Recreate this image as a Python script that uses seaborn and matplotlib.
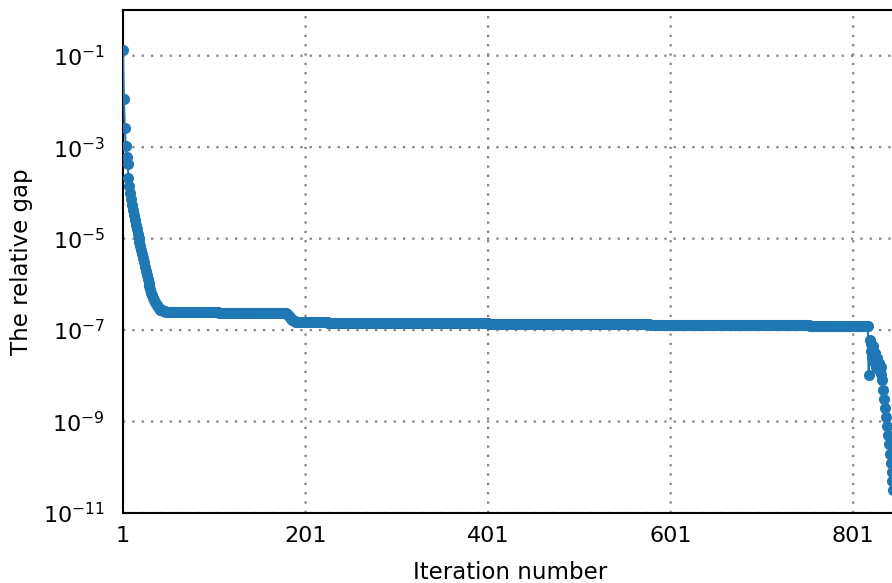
import numpy as np
import pandas as pd
import matplotlib
matplotlib.use("Agg")
import matplotlib.pyplot as plt
import seaborn as sns
from matplotlib.ticker import NullLocator

# log10 of the relative gap, one value per iteration
gap_descent = [  # iterations 1-50
    -0.87, -1.94, -2.59, -2.98, -3.22, -3.36, -3.67, -3.84, -4.00, -4.14,
    -4.26, -4.38, -4.49, -4.60, -4.70, -4.80, -4.89, -4.98, -5.07, -5.16,
    -5.25, -5.34, -5.43, -5.52, -5.61, -5.70, -5.79, -5.88, -5.96, -6.04,
    -6.11, -6.18, -6.24, -6.30, -6.35, -6.39, -6.43, -6.46, -6.49, -6.51,
    -6.53, -6.55, -6.56, -6.57, -6.58, -6.59, -6.59, -6.60, -6.60, -6.60,
]
gap_first_plateau = [  # iterations 51-180
    -6.605, -6.605, -6.605, -6.605, -6.605, -6.606, -6.606, -6.606, -6.606, -6.606,
    -6.607, -6.607, -6.607, -6.607, -6.607, -6.608, -6.608, -6.608, -6.608, -6.608,
    -6.609, -6.609, -6.609, -6.609, -6.609, -6.610, -6.610, -6.610, -6.610, -6.610,
    -6.611, -6.611, -6.611, -6.611, -6.611, -6.612, -6.612, -6.612, -6.612, -6.612,
    -6.613, -6.613, -6.613, -6.613, -6.613, -6.614, -6.614, -6.614, -6.614, -6.614,
    -6.615, -6.615, -6.615, -6.615, -6.615, -6.616, -6.616, -6.616, -6.616, -6.616,
    -6.617, -6.617, -6.617, -6.617, -6.617, -6.618, -6.618, -6.618, -6.618, -6.618,
    -6.619, -6.619, -6.619, -6.619, -6.619, -6.620, -6.620, -6.620, -6.620, -6.620,
    -6.621, -6.621, -6.621, -6.621, -6.621, -6.622, -6.622, -6.622, -6.622, -6.622,
    -6.623, -6.623, -6.623, -6.623, -6.623, -6.624, -6.624, -6.624, -6.624, -6.624,
    -6.625, -6.625, -6.625, -6.625, -6.625, -6.626, -6.626, -6.626, -6.626, -6.626,
    -6.627, -6.627, -6.627, -6.627, -6.627, -6.628, -6.628, -6.628, -6.628, -6.628,
    -6.629, -6.629, -6.629, -6.629, -6.629, -6.630, -6.630, -6.630, -6.630, -6.630,
]
gap_step = [  # iterations 181-193
    -6.64, -6.66, -6.69, -6.72, -6.75, -6.77, -6.79, -6.80, -6.81, -6.82,
    -6.825, -6.828, -6.829,
]
gap_second_plateau = [  # iterations 194-817
    -6.830, -6.830, -6.830, -6.830, -6.830, -6.830, -6.830, -6.830,
    -6.831, -6.831, -6.831, -6.831, -6.831, -6.831, -6.831, -6.831,
    -6.832, -6.832, -6.832, -6.832, -6.832, -6.832, -6.832, -6.832,
    -6.833, -6.833, -6.833, -6.833, -6.833, -6.833, -6.833, -6.833,
    -6.834, -6.834, -6.834, -6.834, -6.834, -6.834, -6.834, -6.834,
    -6.835, -6.835, -6.835, -6.835, -6.835, -6.835, -6.835, -6.835,
    -6.836, -6.836, -6.836, -6.836, -6.836, -6.836, -6.836, -6.836,
    -6.837, -6.837, -6.837, -6.837, -6.837, -6.837, -6.837, -6.837,
    -6.838, -6.838, -6.838, -6.838, -6.838, -6.838, -6.838, -6.838,
    -6.839, -6.839, -6.839, -6.839, -6.839, -6.839, -6.839, -6.839,
    -6.840, -6.840, -6.840, -6.840, -6.840, -6.840, -6.840, -6.840,
    -6.841, -6.841, -6.841, -6.841, -6.841, -6.841, -6.841, -6.841,
    -6.842, -6.842, -6.842, -6.842, -6.842, -6.842, -6.842, -6.842,
    -6.843, -6.843, -6.843, -6.843, -6.843, -6.843, -6.843, -6.843,
    -6.844, -6.844, -6.844, -6.844, -6.844, -6.844, -6.844, -6.844,
    -6.845, -6.845, -6.845, -6.845, -6.845, -6.845, -6.845, -6.845,
    -6.846, -6.846, -6.846, -6.846, -6.846, -6.846, -6.846, -6.846,
    -6.847, -6.847, -6.847, -6.847, -6.847, -6.847, -6.847, -6.847,
    -6.848, -6.848, -6.848, -6.848, -6.848, -6.848, -6.848, -6.848,
    -6.849, -6.849, -6.849, -6.849, -6.849, -6.849, -6.849, -6.849,
    -6.850, -6.850, -6.850, -6.850, -6.850, -6.850, -6.850, -6.850,
    -6.851, -6.851, -6.851, -6.851, -6.851, -6.851, -6.851, -6.851,
    -6.852, -6.852, -6.852, -6.852, -6.852, -6.852, -6.852, -6.852,
    -6.853, -6.853, -6.853, -6.853, -6.853, -6.853, -6.853, -6.853,
    -6.854, -6.854, -6.854, -6.854, -6.854, -6.854, -6.854, -6.854,
    -6.855, -6.855, -6.855, -6.855, -6.855, -6.855, -6.855, -6.855,
    -6.856, -6.856, -6.856, -6.856, -6.856, -6.856, -6.856, -6.856,
    -6.857, -6.857, -6.857, -6.857, -6.857, -6.857, -6.857, -6.857,
    -6.858, -6.858, -6.858, -6.858, -6.858, -6.858, -6.858, -6.858,
    -6.859, -6.859, -6.859, -6.859, -6.859, -6.859, -6.859, -6.859,
    -6.860, -6.860, -6.860, -6.860, -6.860, -6.860, -6.860, -6.860,
    -6.861, -6.861, -6.861, -6.861, -6.861, -6.861, -6.861, -6.861,
    -6.862, -6.862, -6.862, -6.862, -6.862, -6.862, -6.862, -6.862,
    -6.863, -6.863, -6.863, -6.863, -6.863, -6.863, -6.863, -6.863,
    -6.864, -6.864, -6.864, -6.864, -6.864, -6.864, -6.864, -6.864,
    -6.865, -6.865, -6.865, -6.865, -6.865, -6.865, -6.865, -6.865,
    -6.866, -6.866, -6.866, -6.866, -6.866, -6.866, -6.866, -6.866,
    -6.867, -6.867, -6.867, -6.867, -6.867, -6.867, -6.867, -6.867,
    -6.868, -6.868, -6.868, -6.868, -6.868, -6.868, -6.868, -6.868,
    -6.869, -6.869, -6.869, -6.869, -6.869, -6.869, -6.869, -6.869,
    -6.870, -6.870, -6.870, -6.870, -6.870, -6.870, -6.870, -6.870,
    -6.871, -6.871, -6.871, -6.871, -6.871, -6.871, -6.871, -6.871,
    -6.872, -6.872, -6.872, -6.872, -6.872, -6.872, -6.872, -6.872,
    -6.873, -6.873, -6.873, -6.873, -6.873, -6.873, -6.873, -6.873,
    -6.874, -6.874, -6.874, -6.874, -6.874, -6.874, -6.874, -6.874,
    -6.875, -6.875, -6.875, -6.875, -6.875, -6.875, -6.875, -6.875,
    -6.876, -6.876, -6.876, -6.876, -6.876, -6.876, -6.876, -6.876,
    -6.877, -6.877, -6.877, -6.877, -6.877, -6.877, -6.877, -6.877,
    -6.878, -6.878, -6.878, -6.878, -6.878, -6.878, -6.878, -6.878,
    -6.879, -6.879, -6.879, -6.879, -6.879, -6.879, -6.879, -6.879,
    -6.880, -6.880, -6.880, -6.880, -6.880, -6.880, -6.880, -6.880,
    -6.881, -6.881, -6.881, -6.881, -6.881, -6.881, -6.881, -6.881,
    -6.882, -6.882, -6.882, -6.882, -6.882, -6.882, -6.882, -6.882,
    -6.883, -6.883, -6.883, -6.883, -6.883, -6.883, -6.883, -6.883,
    -6.884, -6.884, -6.884, -6.884, -6.884, -6.884, -6.884, -6.884,
    -6.885, -6.885, -6.885, -6.885, -6.885, -6.885, -6.885, -6.885,
    -6.886, -6.886, -6.886, -6.886, -6.886, -6.886, -6.886, -6.886,
    -6.887, -6.887, -6.887, -6.887, -6.887, -6.887, -6.887, -6.887,
    -6.888, -6.888, -6.888, -6.888, -6.888, -6.888, -6.888, -6.888,
    -6.889, -6.889, -6.889, -6.889, -6.889, -6.889, -6.889, -6.889,
    -6.890, -6.890, -6.890, -6.890, -6.890, -6.890, -6.890, -6.890,
    -6.891, -6.891, -6.891, -6.891, -6.891, -6.891, -6.891, -6.891,
    -6.892, -6.892, -6.892, -6.892, -6.892, -6.892, -6.892, -6.892,
    -6.893, -6.893, -6.893, -6.893, -6.893, -6.893, -6.893, -6.893,
    -6.894, -6.894, -6.894, -6.894, -6.894, -6.894, -6.894, -6.894,
    -6.895, -6.895, -6.895, -6.895, -6.895, -6.895, -6.895, -6.895,
    -6.896, -6.896, -6.896, -6.896, -6.896, -6.896, -6.896, -6.896,
    -6.897, -6.897, -6.897, -6.897, -6.897, -6.897, -6.897, -6.897,
    -6.898, -6.898, -6.898, -6.898, -6.898, -6.898, -6.898, -6.898,
    -6.899, -6.899, -6.899, -6.899, -6.899, -6.899, -6.899, -6.899,
    -6.900, -6.900, -6.900, -6.900, -6.900, -6.900, -6.900, -6.900,
    -6.901, -6.901, -6.901, -6.901, -6.901, -6.901, -6.901, -6.901,
    -6.902, -6.902, -6.902, -6.902, -6.902, -6.902, -6.902, -6.902,
    -6.903, -6.903, -6.903, -6.903, -6.903, -6.903, -6.903, -6.903,
    -6.904, -6.904, -6.904, -6.904, -6.904, -6.904, -6.904, -6.904,
    -6.905, -6.905, -6.905, -6.905, -6.905, -6.905, -6.905, -6.905,
    -6.906, -6.906, -6.906, -6.906, -6.906, -6.906, -6.906, -6.906,
    -6.907, -6.907, -6.907, -6.907, -6.907, -6.907, -6.907, -6.907,
]
gap_final = [  # iterations 818-845
    -7.98, -7.22, -7.45, -7.30, -7.60, -7.35, -7.70, -7.50, -7.80, -7.62,
    -7.85, -7.72, -7.88, -7.80, -7.95, -8.10, -8.30, -8.50, -8.70, -8.90,
    -9.10, -9.30, -9.50, -9.70, -9.90, -10.10, -10.30, -10.50,
]

x_ticks = [1, 201, 401, 601, 801]
y_ticks = [1e-11, 1e-9, 1e-7, 1e-5, 1e-3, 1e-1]
x_label = "Iteration number"
y_label = "The relative gap"

log10_gap = np.array(gap_descent + gap_first_plateau + gap_step
                     + gap_second_plateau + gap_final)
iterations = np.arange(1, len(log10_gap) + 1)
df = pd.DataFrame({"iteration": iterations, "gap": 10.0 ** log10_gap})

sns.set_theme(style="white")
plt.rcParams["font.family"] = ["DejaVu Sans"]
plt.rcParams["path.snap"] = False

W, H = 892, 583
fig = plt.figure(figsize=(W / 100, H / 100), dpi=100)
# the plotting area runs slightly past the right edge of the canvas
ax = fig.add_axes([123 / W, 70 / H, 774 / W, 503 / H])

sns.lineplot(data=df, x="iteration", y="gap", ax=ax, color="#1f77b4",
             linewidth=1.5, marker="o", markersize=8, markeredgewidth=0,
             zorder=3)
for line in ax.lines:
    line.set_snap(False)

ax.set_yscale("log")
ax.set_xlim(1, 849)
ax.set_ylim(1e-11, 1)
ax.set_xticks(x_ticks)
ax.set_xticklabels([str(t) for t in x_ticks])
ax.set_yticks(y_ticks)
ax.yaxis.set_minor_locator(NullLocator())
ax.xaxis.set_minor_locator(NullLocator())

ax.grid(True, which="major", linestyle=(0, (1, 3.2)), linewidth=1.6,
        color="#808080")
ax.set_axisbelow(True)

for side in ["left", "top", "bottom", "right"]:
    ax.spines[side].set_color("black")
    ax.spines[side].set_linewidth(1.5)

ax.tick_params(axis="both", length=0, labelsize=16, colors="black")
ax.tick_params(axis="x", pad=9)
ax.tick_params(axis="y", pad=13)

ax.set_xlabel(x_label, fontsize=16.5, color="black", labelpad=11.5)
ax.set_ylabel(y_label, fontsize=16.5, color="black", labelpad=7)

fig.savefig("out.png", dpi=100)
